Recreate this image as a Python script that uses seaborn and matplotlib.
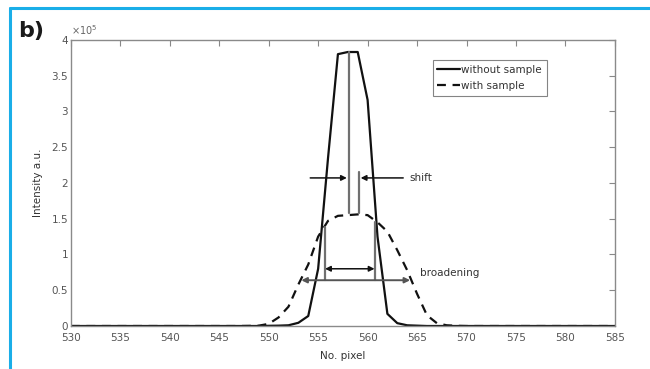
import numpy as np
import pandas as pd
import matplotlib.pyplot as plt
import seaborn as sns
from matplotlib.lines import Line2D

# Spectra (intensity in units of 1e5)
pixel = list(range(530, 586))
without_peak = {550: 0.003, 551: 0.005, 552: 0.01, 553: 0.045, 554: 0.14, 555: 0.8,
                556: 2.35, 557: 3.80, 558: 3.83, 559: 3.83, 560: 3.16, 561: 1.25,
                562: 0.17, 563: 0.04, 564: 0.01, 565: 0.005}
with_peak = {548: 0.002, 549: 0.005, 550: 0.03, 551: 0.12, 552: 0.27, 553: 0.58,
             554: 0.86, 555: 1.25, 556: 1.47, 557: 1.54, 558: 1.55, 559: 1.56,
             560: 1.55, 561: 1.45, 562: 1.32, 563: 1.06, 564: 0.78, 565: 0.45,
             566: 0.15, 567: 0.04, 568: 0.01, 569: 0.003}
without_sample = [without_peak.get(p, 0.0) for p in pixel]
with_sample = [with_peak.get(p, 0.0) for p in pixel]

x_ticks = list(range(530, 586, 5))
y_ticks = [0, 0.5, 1, 1.5, 2, 2.5, 3, 3.5, 4]
y_labels = ['0', '0.5', '1', '1.5', '2', '2.5', '3', '3.5', '4']

# annotation guides
peak_lines = [(558.1, 1.58, 3.83), (559.1, 1.58, 2.15)]
width_lines = [(555.7, 0.64, 1.38), (560.7, 0.64, 1.45)]
shift_y = 2.07
broad_inner = (555.7, 560.7, 0.80)
broad_outer = (553.3, 564.3, 0.64)

df = pd.DataFrame({'pixel': pixel * 2,
                   'intensity': without_sample + with_sample,
                   'series': ['without sample'] * len(pixel) + ['with sample'] * len(pixel)})

sns.set_style('white')
plt.rcParams['font.family'] = ['DejaVu Sans']

fig = plt.figure(figsize=(6.5, 3.69), dpi=100)
ax = fig.add_axes([0.109, 0.1165, 0.837, 0.7755])

sns.lineplot(data=df, x='pixel', y='intensity', style='series',
             dashes={'without sample': '', 'with sample': (4, 3)},
             color='#111111', linewidth=1.6, ax=ax, legend=False)

for x, y0, y1 in peak_lines + width_lines:
    ax.plot([x, x], [y0, y1], color='#707070', lw=1.6)

arrow_kw = dict(arrowstyle='-|>', color='#111111', lw=1.1, mutation_scale=8,
                shrinkA=0, shrinkB=0)
ax.annotate('', xy=(557.9, shift_y), xytext=(554.2, shift_y), arrowprops=arrow_kw)
ax.annotate('', xy=(559.3, shift_y), xytext=(563.6, shift_y), arrowprops=arrow_kw)
ax.text(564.2, shift_y, 'shift', fontsize=7.5, va='center', color='#333333')

ax.annotate('', xy=(broad_inner[0], broad_inner[2]), xytext=(broad_inner[1], broad_inner[2]),
            arrowprops=dict(arrowstyle='<|-|>', color='#111111', lw=1.1, mutation_scale=8,
                            shrinkA=0, shrinkB=0))
ax.annotate('', xy=(broad_outer[0], broad_outer[2]), xytext=(broad_outer[1], broad_outer[2]),
            arrowprops=dict(arrowstyle='<|-|>', color='#555555', lw=1.4, mutation_scale=8,
                            shrinkA=0, shrinkB=0))
ax.text(565.3, 0.74, 'broadening', fontsize=7.5, va='center', color='#333333')

ax.set_xlim(530, 585)
ax.set_ylim(0, 4)
ax.set_xticks(x_ticks)
ax.set_yticks(y_ticks)
ax.set_yticklabels(y_labels)
ax.tick_params(direction='in', length=4, width=0.8, color='#888888', labelsize=7.5,
               labelcolor='#555555', top=True, right=True, pad=2)
ax.tick_params(axis='x', pad=5)
for s in ax.spines.values():
    s.set_color('#8a8a8a')
    s.set_linewidth(1.0)
ax.set_xlabel('No. pixel', fontsize=7.5, color='#333333', labelpad=6)
ax.set_ylabel('Intensity a.u.', fontsize=7.5, color='#333333', labelpad=6)
ax.text(0.0, 1.01, r'$\times10^5$', transform=ax.transAxes, fontsize=7,
        color='#666666', va='bottom', ha='left')

handles = [Line2D([], [], color='#111111', lw=1.6),
           Line2D([], [], color='#111111', lw=1.6, dashes=(4, 3))]
leg = ax.legend(handles, ['without sample', 'with sample'], loc='upper left',
                bbox_to_anchor=(0.665, 0.93), fontsize=7.5, frameon=True, fancybox=False,
                handlelength=2.2, handletextpad=0.1, borderpad=0.45, labelspacing=0.6,
                borderaxespad=0)
leg.get_frame().set_edgecolor('#666666')
leg.get_frame().set_linewidth(0.8)
for t in leg.get_texts():
    t.set_color('#333333')

# blue frame and panel letter
fig.add_artist(Line2D([0.015, 1.0], [0.978, 0.978], color='#1aaee8', lw=2.2,
                      transform=fig.transFigure))
fig.add_artist(Line2D([0.015, 0.015], [0.0, 0.978], color='#1aaee8', lw=2.2,
                      transform=fig.transFigure))
fig.text(0.028, 0.915, 'b)', fontsize=16, fontweight='bold', color='#1a1a1a',
         va='center', ha='left')

fig.savefig('out.png', dpi=100)
